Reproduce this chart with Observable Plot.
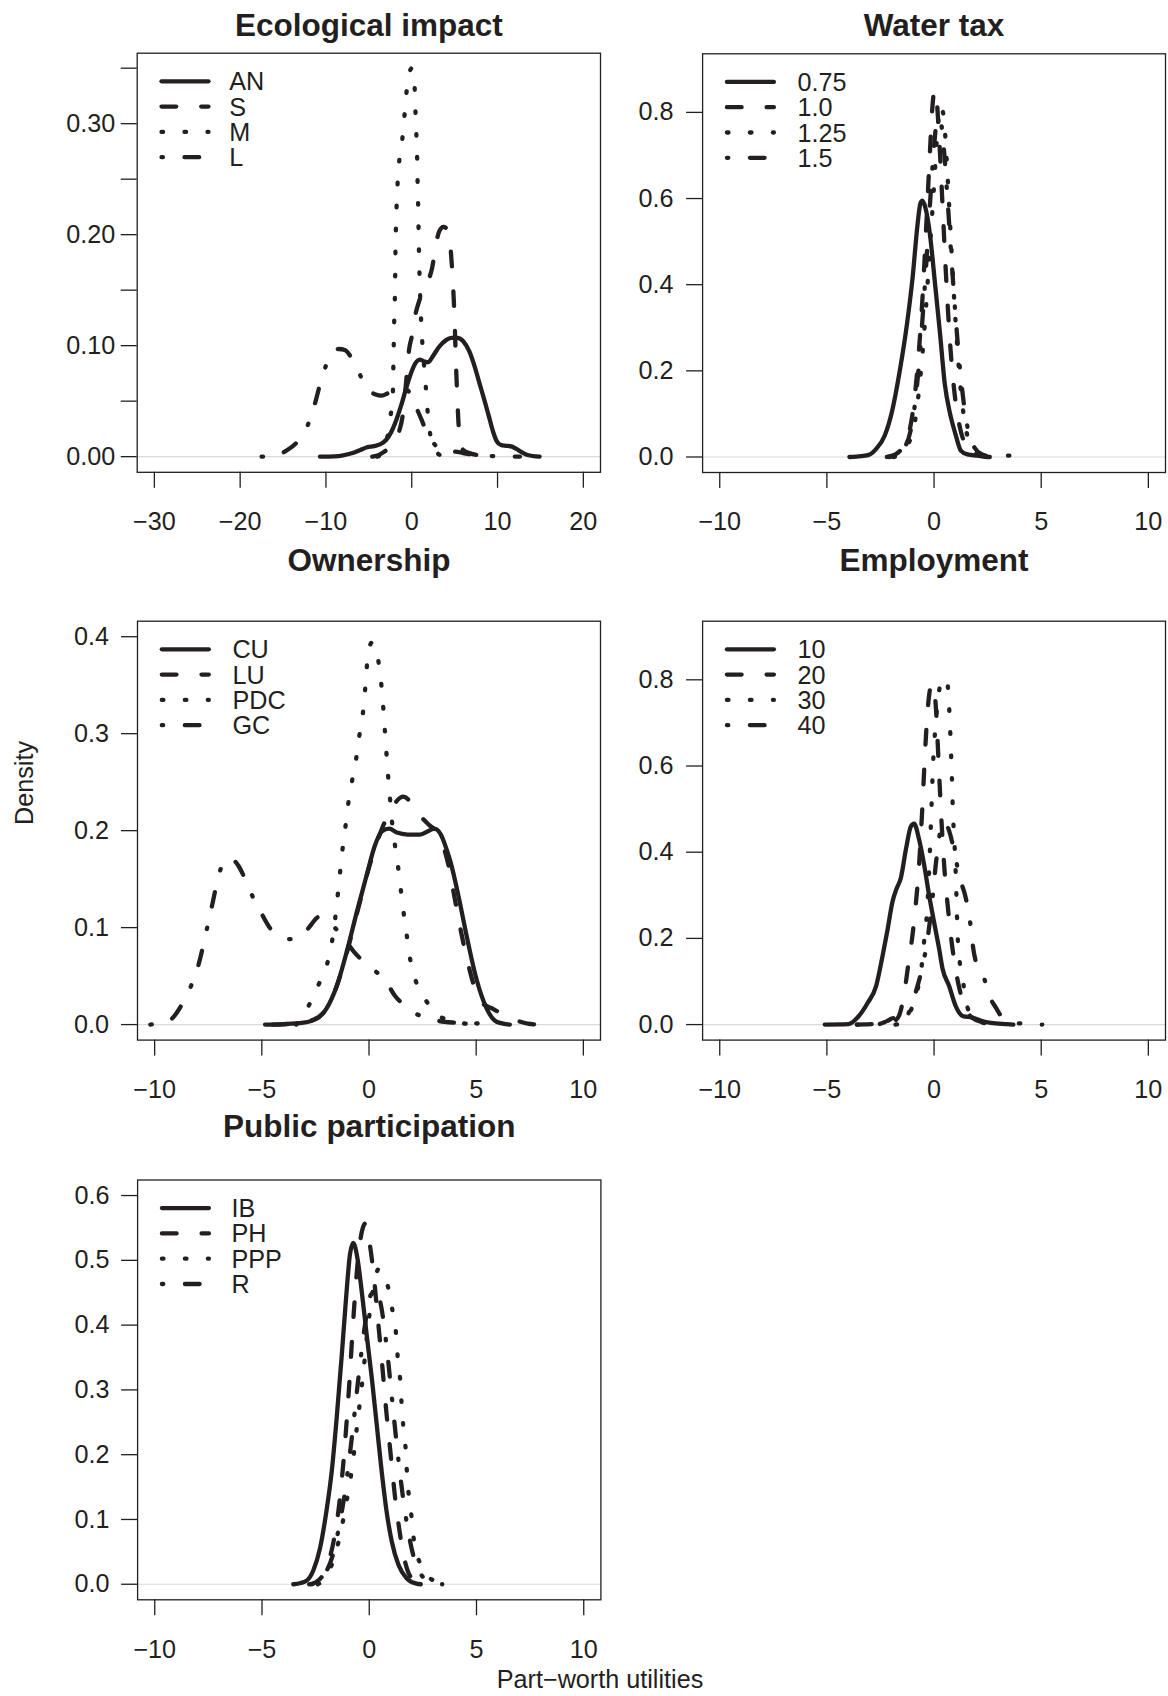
<!DOCTYPE html>
<html><head><meta charset="utf-8">
<script src="https://cdn.jsdelivr.net/npm/d3@7"></script>
<script src="https://cdn.jsdelivr.net/npm/@observablehq/plot@0.6"></script>
<style>
body{margin:0;background:#fff;}
#wrap{position:relative;width:1168px;height:1696px;overflow:hidden;background:#fff;}
#wrap svg{position:absolute;left:0;top:0;}
</style></head><body><div id="wrap"></div>
<script>
// ---------- data ----------
const ecoLevels = ["AN", "S", "M", "L"];
const ecoAN = [[-10.7,0],[-9,0.0003],[-8,0.0012],[-7,0.003],[-6,0.006],[-5.2,0.0085],[-4.4,0.0095],[-3.7,0.011],[-3.0,0.015],[-2.4,0.022],[-1.8,0.033],[-1.2,0.047],[-0.6,0.063],[0,0.077],[0.5,0.085],[0.9,0.0875],[1.4,0.086],[1.9,0.085],[2.5,0.091],[3.2,0.099],[4.0,0.105],[4.6,0.107],[5.3,0.107],[6.0,0.104],[6.7,0.095],[7.3,0.082],[7.9,0.066],[8.5,0.05],[9.0,0.036],[9.5,0.022],[9.9,0.014],[10.4,0.0105],[11.0,0.0098],[11.6,0.0092],[12.2,0.007],[12.8,0.004],[13.5,0.0015],[14.9,0]];
const ecoS = [[-4.6,0],[-4,0.001],[-3.3,0.004],[-2.6,0.008],[-2.0,0.013],[-1.5,0.022],[-1.0,0.04],[-0.6,0.072],[-0.3,0.097],[0,0.108],[0.4,0.127],[0.9,0.141],[1.4,0.15],[1.9,0.158],[2.4,0.171],[2.8,0.19],[3.2,0.203],[3.7,0.207],[4.2,0.204],[4.5,0.19],[4.75,0.163],[4.95,0.132],[5.05,0.11],[5.15,0.085],[5.3,0.055],[5.45,0.03],[5.65,0.013],[6.0,0.006],[6.8,0.003],[8.0,0.001],[9.0,0]];
const ecoM = [[-4.0,0],[-3.4,0.004],[-2.9,0.015],[-2.5,0.035],[-2.2,0.057],[-2.15,0.078],[-2.1,0.099],[-2.05,0.12],[-1.97,0.141],[-1.93,0.162],[-1.9,0.184],[-1.85,0.204],[-1.77,0.225],[-1.65,0.246],[-1.45,0.267],[-1.1,0.286],[-0.85,0.307],[-0.6,0.329],[-0.3,0.345],[0,0.35],[0.2,0.343],[0.36,0.329],[0.45,0.307],[0.56,0.286],[0.64,0.266],[0.69,0.244],[0.75,0.225],[0.8,0.202],[0.85,0.182],[0.92,0.16],[1.0,0.141],[1.12,0.118],[1.26,0.099],[1.48,0.078],[1.7,0.057],[1.9,0.036],[2.25,0.016],[2.8,0.005],[3.7,0]];
const ecoL = [[-17.5,0],[-16.5,0.0005],[-15.5,0.002],[-14.5,0.006],[-13.5,0.012],[-12.5,0.022],[-11.8,0.035],[-11.2,0.05],[-10.6,0.068],[-10,0.082],[-9.3,0.093],[-8.5,0.097],[-7.8,0.096],[-7.1,0.09],[-6.3,0.079],[-5.6,0.066],[-4.9,0.059],[-4.2,0.056],[-3.5,0.055],[-2.8,0.057],[-2.0,0.06],[-1.2,0.062],[-0.5,0.06],[0.1,0.052],[0.6,0.043],[1.1,0.034],[1.7,0.023],[2.3,0.015],[2.9,0.009],[3.6,0.006],[4.5,0.005],[5.5,0.004],[6.5,0.0025],[7.5,0.0015],[8.5,0.0008],[10,0.0004],[11.5,0.0002],[12.6,0]];

const taxLevels = ["0.75", "1.0", "1.25", "1.5"];
const tax075 = [[-3.95,0],[-3.4,0.002],[-3.0,0.006],[-2.7,0.019],[-2.3,0.05],[-1.97,0.104],[-1.6,0.2],[-1.26,0.31],[-1.0,0.417],[-0.77,0.54],[-0.64,0.588],[-0.55,0.595],[-0.4,0.578],[-0.2,0.52],[0.05,0.4],[0.28,0.286],[0.5,0.17],[0.75,0.1],[1.0,0.053],[1.25,0.015],[1.56,0.006],[2.0,0.003],[2.5,0]];
const tax100 = [[-2.2,0],[-1.8,0.006],[-1.5,0.02],[-1.2,0.05],[-0.95,0.12],[-0.75,0.22],[-0.55,0.36],[-0.35,0.55],[-0.2,0.7],[-0.08,0.81],[0.02,0.852],[0.12,0.83],[0.25,0.73],[0.4,0.58],[0.55,0.43],[0.7,0.3],[0.85,0.2],[1.0,0.13],[1.2,0.07],[1.45,0.03],[1.8,0.01],[2.3,0.002],[2.6,0]];
const tax125 = [[-1.9,0],[-1.5,0.008],[-1.2,0.03],[-0.9,0.08],[-0.65,0.18],[-0.4,0.33],[-0.2,0.48],[0,0.63],[0.15,0.75],[0.3,0.815],[0.45,0.79],[0.6,0.68],[0.75,0.54],[0.9,0.4],[1.05,0.28],[1.2,0.18],[1.35,0.11],[1.55,0.05],[1.8,0.018],[2.1,0.005],[2.5,0]];
const tax150 = [[-2.1,0],[-1.7,0.005],[-1.4,0.02],[-1.1,0.06],[-0.85,0.14],[-0.6,0.28],[-0.4,0.42],[-0.2,0.58],[0,0.72],[0.15,0.785],[0.3,0.78],[0.45,0.72],[0.6,0.62],[0.8,0.47],[1.0,0.33],[1.2,0.21],[1.4,0.12],[1.6,0.06],[1.85,0.025],[2.2,0.007],[2.6,0.002],[3.1,0.002],[3.5,0.003],[3.7,0]];

const ownLevels = ["CU", "LU", "PDC", "GC"];
const ownCU = [[-4.85,0],[-4,0.0005],[-3.06,0.002],[-2.44,0.006],[-1.97,0.017],[-1.5,0.04],[-1.04,0.075],[-0.57,0.116],[-0.11,0.154],[0.28,0.185],[0.59,0.199],[0.95,0.202],[1.3,0.198],[1.8,0.196],[2.38,0.196],[2.8,0.2],[3.05,0.202],[3.35,0.196],[3.6,0.182],[3.8,0.168],[4.17,0.133],[4.55,0.092],[5.0,0.048],[5.48,0.017],[5.95,0.003],[6.57,0]];
const ownLU = [[-4.5,0],[-3.5,0.001],[-2.6,0.005],[-2.0,0.016],[-1.5,0.04],[-1.0,0.077],[-0.5,0.12],[0,0.162],[0.4,0.19],[0.8,0.212],[1.2,0.228],[1.6,0.235],[2.0,0.228],[2.4,0.215],[2.8,0.206],[3.1,0.2],[3.4,0.188],[3.7,0.165],[4.0,0.13],[4.3,0.095],[4.6,0.065],[4.9,0.04],[5.3,0.022],[5.8,0.016],[6.3,0.01],[6.8,0.005],[7.4,0.001],[8.0,0]];
const ownPDC = [[-3.4,0],[-2.85,0.018],[-2.4,0.039],[-1.97,0.061],[-1.73,0.085],[-1.58,0.109],[-1.46,0.133],[-1.35,0.157],[-1.24,0.18],[-1.1,0.204],[-0.98,0.226],[-0.8,0.25],[-0.6,0.274],[-0.45,0.298],[-0.29,0.32],[-0.18,0.346],[-0.08,0.374],[0.13,0.394],[0.35,0.385],[0.5,0.365],[0.62,0.34],[0.72,0.31],[0.8,0.284],[0.88,0.26],[0.97,0.236],[1.07,0.21],[1.2,0.187],[1.35,0.164],[1.48,0.14],[1.6,0.118],[1.75,0.094],[1.9,0.07],[2.14,0.048],[2.6,0.027],[3.2,0.01],[4.0,0.003],[5.0,0]];
const ownGC = [[-10.2,0],[-9.6,0.002],[-9.2,0.006],[-8.75,0.02],[-8.3,0.04],[-7.95,0.062],[-7.6,0.095],[-7.3,0.125],[-7.0,0.155],[-6.7,0.169],[-6.45,0.171],[-6.1,0.164],[-5.8,0.151],[-5.45,0.133],[-5.0,0.114],[-4.6,0.099],[-4.1,0.091],[-3.6,0.088],[-3.1,0.092],[-2.7,0.103],[-2.35,0.111],[-2.0,0.109],[-1.6,0.1],[-1.2,0.09],[-0.7,0.075],[-0.2,0.064],[0.3,0.055],[0.75,0.046],[1.2,0.03],[1.7,0.019],[2.2,0.011],[2.7,0.007],[3.2,0.004],[4.0,0.002],[5.2,0.001],[6.0,0]];

const empLevels = ["10", "20", "30", "40"];
const emp10 = [[-5.1,0],[-4.0,0.001],[-3.56,0.017],[-3.1,0.05],[-2.7,0.09],[-2.4,0.16],[-2.17,0.22],[-1.94,0.285],[-1.75,0.315],[-1.55,0.34],[-1.3,0.41],[-1.08,0.46],[-0.93,0.466],[-0.7,0.43],[-0.46,0.37],[-0.23,0.3],[0,0.238],[0.24,0.175],[0.4,0.129],[0.7,0.09],[1.0,0.044],[1.33,0.02],[1.8,0.016],[2.2,0.009],[2.65,0.004],[3.4,0.001],[3.7,0]];
const emp20 = [[-3.6,0],[-3.2,0.0005],[-2.6,0.002],[-2.1,0.005],[-1.8,0.01],[-1.6,0.025],[-1.4,0.07],[-1.2,0.14],[-1.0,0.21],[-0.85,0.28],[-0.7,0.37],[-0.55,0.5],[-0.4,0.65],[-0.28,0.74],[-0.15,0.785],[-0.05,0.79],[0.08,0.74],[0.22,0.6],[0.35,0.47],[0.5,0.35],[0.65,0.27],[0.8,0.2],[1.0,0.13],[1.25,0.07],[1.5,0.035],[1.8,0.015],[2.3,0.005],[2.8,0.001],[3.3,0]];
const emp30 = [[-1.8,0],[-1.47,0.003],[-1.2,0.02],[-1.0,0.044],[-0.7,0.098],[-0.54,0.152],[-0.44,0.206],[-0.33,0.26],[-0.22,0.37],[-0.14,0.474],[-0.05,0.6],[0.08,0.7],[0.2,0.76],[0.35,0.8],[0.5,0.803],[0.63,0.79],[0.7,0.74],[0.75,0.687],[0.79,0.633],[0.83,0.58],[0.86,0.524],[0.9,0.47],[0.96,0.415],[1.0,0.365],[1.04,0.307],[1.07,0.253],[1.11,0.199],[1.2,0.145],[1.37,0.094],[1.56,0.04],[1.9,0.012],[2.4,0.003],[3.0,0]];
const emp40 = [[-3.6,0],[-2.6,0.001],[-2.2,0.008],[-1.9,0.015],[-1.65,0.008],[-1.45,0.004],[-1.2,0.025],[-1.05,0.045],[-0.77,0.09],[-0.54,0.135],[-0.3,0.2],[-0.1,0.28],[0.1,0.38],[0.3,0.45],[0.5,0.47],[0.7,0.45],[0.95,0.4],[1.2,0.34],[1.45,0.3],[1.65,0.25],[1.85,0.17],[2.05,0.13],[2.35,0.105],[2.6,0.065],[2.9,0.038],[3.2,0.015],[3.6,0.005],[4.2,0.002],[5.05,0]];

const pubLevels = ["IB", "PH", "PPP", "R"];
const pubIB = [[-3.54,0],[-3.2,0.002],[-2.9,0.006],[-2.6,0.022],[-2.3,0.055],[-2.0,0.112],[-1.75,0.174],[-1.52,0.256],[-1.28,0.354],[-1.08,0.442],[-0.9,0.509],[-0.75,0.527],[-0.55,0.503],[-0.35,0.452],[-0.12,0.385],[0.12,0.318],[0.35,0.246],[0.58,0.174],[0.81,0.112],[1.05,0.066],[1.36,0.03],[1.75,0.009],[2.2,0.001],[2.4,0]];
const pubPH = [[-2.8,0],[-2.5,0.003],[-2.2,0.012],[-1.95,0.03],[-1.7,0.06],[-1.45,0.11],[-1.2,0.19],[-0.95,0.3],[-0.72,0.42],[-0.5,0.51],[-0.3,0.55],[-0.18,0.557],[0.0,0.53],[0.2,0.48],[0.4,0.41],[0.6,0.34],[0.8,0.265],[1.0,0.2],[1.2,0.135],[1.4,0.085],[1.6,0.045],[1.8,0.02],[2.1,0.006],[2.4,0]];
const pubPPP = [[-2.4,0],[-2.1,0.008],[-1.75,0.03],[-1.4,0.07],[-1.1,0.12],[-0.8,0.18],[-0.55,0.25],[-0.3,0.32],[-0.05,0.4],[0.2,0.46],[0.45,0.487],[0.7,0.475],[0.89,0.457],[1.09,0.421],[1.25,0.386],[1.33,0.349],[1.44,0.316],[1.51,0.278],[1.59,0.243],[1.7,0.207],[1.76,0.171],[1.85,0.135],[1.98,0.102],[2.09,0.066],[2.4,0.03],[2.8,0.01],[3.3,0.003],[3.9,0]];
const pubR = [[-2.7,0],[-2.3,0.006],[-2.0,0.02],[-1.7,0.045],[-1.4,0.09],[-1.1,0.15],[-0.8,0.23],[-0.5,0.32],[-0.2,0.4],[0.05,0.445],[0.3,0.455],[0.55,0.43],[0.8,0.37],[1.05,0.29],[1.3,0.21],[1.55,0.14],[1.8,0.085],[2.05,0.045],[2.3,0.022],[2.6,0.008],[3.0,0.002],[3.4,0]];

const ecoXTicks = [-30, -20, -10, 0, 10, 20];
const ecoYTicks = [0, 0.05, 0.10, 0.15, 0.20, 0.25, 0.30, 0.35];
const stdXTicks = [-10, -5, 0, 5, 10];
const taxYTicks = [0, 0.2, 0.4, 0.6, 0.8];
const ownYTicks = [0, 0.1, 0.2, 0.3, 0.4];
const empYTicks = [0, 0.2, 0.4, 0.6, 0.8];
const pubYTicks = [0, 0.1, 0.2, 0.3, 0.4, 0.5, 0.6];

const titles = ["Ecological impact", "Water tax", "Ownership", "Employment", "Public participation"];
const yAxisTitle = "Density";
const xAxisTitle = "Part\u2212worth utilities";

// ---------- styling / layout ----------
const W = 1168, H = 1696;
const INK = "#231f20";
const FONT = "'Liberation Sans', Arial, Helvetica, sans-serif";
const LW = 4.3;
const DASH = [null, "14.7 25", "1.6 21.4", "1.4 21.6 14.7 22.3"];

const panels = [
  {title: titles[0], levels: ecoLevels, series: [ecoAN, ecoS, ecoM, ecoL], xd: [-32, 22], yd: [-0.0141, 0.3635],
   xt: ecoXTicks, yt: ecoYTicks, yf: d => (Math.round(d * 100) % 10 === 0 ? d3.format(".2f")(d) : ""),
   box: {l: 136.7, r: 600, t: 52.7, b: 471.8}, titleY: 25, yPad: 6, legX: 92.6},
  {title: titles[1], levels: taxLevels, series: [tax075, tax100, tax125, tax150], xd: [-10.8, 10.8], yd: [-0.036, 0.936],
   xt: stdXTicks, yt: taxYTicks, yf: d3.format(".1f"),
   box: {l: 702.1, r: 1165, t: 53.3, b: 472}, titleY: 25, yPad: 13, legX: 95.3},
  {title: titles[2], levels: ownLevels, series: [ownCU, ownLU, ownPDC, ownGC], xd: [-10.8, 10.8], yd: [-0.016, 0.416],
   xt: stdXTicks, yt: ownYTicks, yf: d3.format(".1f"),
   box: {l: 137, r: 600, t: 620.7, b: 1039.6}, titleY: 560.5, yPad: 12.5, legX: 95.4},
  {title: titles[3], levels: empLevels, series: [emp10, emp20, emp30, emp40], xd: [-10.8, 10.8], yd: [-0.036, 0.936],
   xt: stdXTicks, yt: empYTicks, yf: d3.format(".1f"),
   box: {l: 702.1, r: 1165, t: 620.7, b: 1039.6}, titleY: 560.5, yPad: 13, legX: 95.3},
  {title: titles[4], levels: pubLevels, series: [pubIB, pubPH, pubPPP, pubR], xd: [-10.8, 10.8], yd: [-0.024, 0.624],
   xt: stdXTicks, yt: pubYTicks, yf: d3.format(".1f"),
   box: {l: 137.1, r: 600.4, t: 1179.5, b: 1599.3}, titleY: 1126.5, yPad: 12, legX: 94.4}
];

const wrap = document.getElementById("wrap");

for (const p of panels) {
  const marks = [
    Plot.ruleY([0], {stroke: "#dadada", strokeWidth: 1.2}),
    ...p.series.map((pts, i) => Plot.line(pts, {
      x: d => d[0], y: d => d[1], stroke: INK, strokeWidth: LW,
      strokeDasharray: DASH[i] ?? undefined, strokeLinecap: "round", strokeLinejoin: "round",
      curve: "monotone-x"
    })),
    Plot.frame({stroke: INK, strokeWidth: 1.3}),
    Plot.axisX({ticks: p.xt, tickSize: 16, tickPadding: 24, tickFormat: d3.format("d"),
      fontSize: 25.2, strokeWidth: 1.3, label: null}),
    Plot.axisY({ticks: p.yt, tickSize: 16, tickPadding: p.yPad, tickFormat: p.yf,
      fontSize: 25.2, strokeWidth: 1.3, label: null}),
    Plot.text([p.title], {frameAnchor: "top", dy: p.titleY - p.box.t, fontSize: 31.5,
      fontWeight: "bold", lineAnchor: "middle", fill: INK})
  ];
  const chart = Plot.plot({
    width: W, height: H,
    marginLeft: p.box.l, marginRight: W - p.box.r, marginTop: p.box.t, marginBottom: H - p.box.b,
    x: {domain: p.xd}, y: {domain: p.yd},
    style: {background: "transparent", color: INK, fontFamily: FONT, overflow: "visible"},
    marks
  });
  wrap.appendChild(chart);
}

// legends and shared axis titles (overlay)
const ov = d3.select(wrap).append("svg").attr("width", W).attr("height", H)
  .style("font-family", FONT);
for (const p of panels) {
  p.levels.forEach((name, i) => {
    const y = p.box.t + 28.6 + 25.3 * i;
    const ln = ov.append("line")
      .attr("x1", p.box.l + 24.8).attr("x2", p.box.l + 71.8)
      .attr("y1", y).attr("y2", y)
      .attr("stroke", INK).attr("stroke-width", LW).attr("stroke-linecap", "round");
    if (DASH[i]) ln.attr("stroke-dasharray", DASH[i]);
    ov.append("text").attr("x", p.box.l + p.legX).attr("y", y).attr("dy", "0.36em")
      .attr("font-size", 25.2).attr("fill", INK).text(name);
  });
}
ov.append("text").attr("transform", "translate(33,783) rotate(-90)")
  .attr("text-anchor", "middle").attr("font-size", 25.2).attr("fill", INK).text(yAxisTitle);
ov.append("text").attr("x", 600).attr("y", 1688)
  .attr("text-anchor", "middle").attr("font-size", 25.2).attr("fill", INK).text(xAxisTitle);
</script>
</body></html>
